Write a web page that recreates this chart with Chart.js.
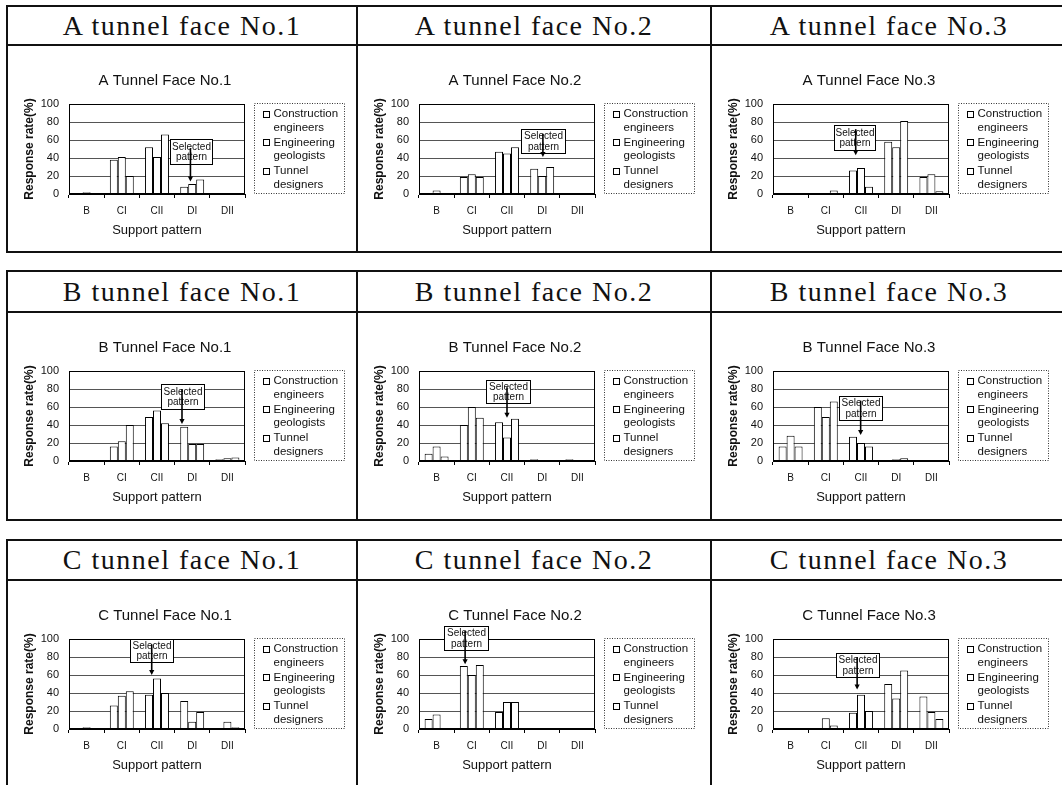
<!DOCTYPE html>
<html><head><meta charset="utf-8">
<script src="https://cdn.jsdelivr.net/npm/chart.js@4.4.1/dist/chart.umd.min.js"></script>
<style>
html,body{margin:0;padding:0;background:#fff;}
#page{position:relative;width:1062px;height:785px;overflow:hidden;background:#fff;}
.ln{position:absolute;background:#111;}
.hdr{position:absolute;font-family:'Liberation Serif','DejaVu Serif',serif;font-size:28px;letter-spacing:1.5px;color:#111;display:flex;align-items:center;justify-content:center;white-space:nowrap;}
canvas{position:absolute;}
</style></head><body><div id="page"></div>
<script>
// ---------- data ----------
const categories = ['B','CI','CII','DI','DII'];
const seriesLabels = ['Construction engineers','Engineering geologists','Tunnel designers'];
const tunnels = ['A','B','C'];
const faces = ['No.1','No.2','No.3'];
const yTicks = [0,20,40,60,80,100];

const A1_construction = [1,38,52,8,0];
const A1_geologists   = [2,41,41,11,0];
const A1_designers    = [0,20,66,16,0];

const A2_construction = [1,19,47,28,0];
const A2_geologists   = [4,22,45,20,1];
const A2_designers    = [0,19,52,30,0];

const A3_construction = [0,0,26,58,19];
const A3_geologists   = [0,0,29,52,22];
const A3_designers    = [0,4,8,81,3];

const B1_construction = [0,16,49,38,2];
const B1_geologists   = [0,22,56,19,3];
const B1_designers    = [0,40,42,19,4];

const B2_construction = [8,40,43,2,2];
const B2_geologists   = [16,60,26,0,0];
const B2_designers    = [5,48,47,0,0];

const B3_construction = [16,60,27,0,0];
const B3_geologists   = [28,49,20,2,0];
const B3_designers    = [16,66,16,3,0];

const C1_construction = [0,26,38,31,0];
const C1_geologists   = [2,37,56,8,8];
const C1_designers    = [0,42,40,19,2];

const C2_construction = [11,70,19,1,0];
const C2_geologists   = [16,60,30,0,0];
const C2_designers    = [0,71,30,0,0];

const C3_construction = [0,1,18,50,36];
const C3_geologists   = [0,12,38,34,19];
const C3_designers    = [0,4,20,65,11];

const panelSeries = {
  A1:[A1_construction,A1_geologists,A1_designers],
  A2:[A2_construction,A2_geologists,A2_designers],
  A3:[A3_construction,A3_geologists,A3_designers],
  B1:[B1_construction,B1_geologists,B1_designers],
  B2:[B2_construction,B2_geologists,B2_designers],
  B3:[B3_construction,B3_geologists,B3_designers],
  C1:[C1_construction,C1_geologists,C1_designers],
  C2:[C2_construction,C2_geologists,C2_designers],
  C3:[C3_construction,C3_geologists,C3_designers]
};

// "Selected pattern" callout, in data units: box [x0,x1,yTop,yBottom], arrow [x, yStart, yTip]
const selectedCallout = {
  A1:{box:[2.38,3.57,61,33], arrow:[2.95,51,14]},
  A2:{box:[2.39,3.65,72,46], arrow:[3.02,67,41]},
  A3:{box:[1.23,2.40,77,49], arrow:[1.85,72,43]},
  B1:{box:[2.11,3.34,86,58], arrow:[2.71,80,41]},
  B2:{box:[1.41,2.64,90,65], arrow:[2.00,82,48]},
  B3:{box:[1.37,2.60,72,46], arrow:[1.99,67,29]},
  C1:{box:[1.24,2.45,100,75], arrow:[1.85,94,60]},
  C2:{box:[0.20,1.45,114,88], arrow:[0.81,109,72]},
  C3:{box:[1.29,2.52,84,58], arrow:[1.89,80,44]}
};

// ---------- layout ----------
const FONT = "'Liberation Sans', Arial, sans-serif";
const blocks = [{top:5,head:44,bottom:251},{top:270,head:311,bottom:519},{top:539,head:579,bottom:800}];
const colX = [6,356,710,1066];
const page = document.getElementById('page');

function line(x,y,w,h){const d=document.createElement('div');d.className='ln';Object.assign(d.style,{left:x+'px',top:y+'px',width:w+'px',height:h+'px'});page.appendChild(d);}

const framePlugin = {
  id:'frame',
  afterDatasetsDraw(chart){
    const {ctx, chartArea:a} = chart;
    ctx.save(); ctx.strokeStyle='#000'; ctx.lineWidth=1;
    ctx.strokeRect(Math.round(a.left)+0.5, Math.round(a.top)+0.5, Math.round(a.right-a.left)-1, Math.round(a.bottom-a.top)-1);
    ctx.restore();
  }
};

const titlePlugin = {
  id:'panelTitle',
  afterDraw(chart, args, opts){
    const {ctx, chartArea:a} = chart;
    ctx.save();
    ctx.fillStyle='#111'; ctx.font='15px '+FONT; ctx.textAlign='center'; ctx.textBaseline='middle';
    ctx.fillText(opts.text, (a.left+a.right)/2 + 8, a.top - 23);
    ctx.restore();
  }
};

const calloutPlugin = {
  id:'callout',
  afterDatasetsDraw(chart, args, opts){
    if(!opts || !opts.box) return;
    const {ctx, scales:{x,y}} = chart;
    const p0 = x.getPixelForValue(0), step = x.getPixelForValue(1)-p0;
    const px = v => p0 + v*step;
    const [bx0,bx1,bt,bb] = opts.box;
    const L=Math.round(px(bx0))+0.5, R=Math.round(px(bx1))+0.5, T=Math.round(y.getPixelForValue(bt))+0.5, B=Math.round(y.getPixelForValue(bb))+0.5;
    ctx.save();
    ctx.fillStyle='#fff'; ctx.fillRect(L,T,R-L,B-T);
    ctx.strokeStyle='#000'; ctx.lineWidth=1; ctx.strokeRect(L,T,R-L,B-T);
    ctx.fillStyle='#111'; ctx.font='10px '+FONT; ctx.textAlign='center'; ctx.textBaseline='middle';
    const cx=(L+R)/2;
    ctx.fillText('Selected', cx, T+(B-T)*0.3);
    ctx.fillText('pattern', cx, T+(B-T)*0.72);
    const [ax,a0,a1] = opts.arrow;
    const X=px(ax), Y0=y.getPixelForValue(a0), Y1=y.getPixelForValue(a1);
    ctx.strokeStyle='#000'; ctx.lineWidth=1.6;
    ctx.beginPath(); ctx.moveTo(X,Y0); ctx.lineTo(X,Y1-3); ctx.stroke();
    ctx.fillStyle='#000';
    ctx.beginPath(); ctx.moveTo(X-2.6,Y1-5); ctx.lineTo(X+2.6,Y1-5); ctx.lineTo(X,Y1); ctx.closePath(); ctx.fill();
    ctx.restore();
  }
};

const boxLegendPlugin = {
  id:'boxLegend',
  afterDraw(chart){
    const {ctx, chartArea:a} = chart;
    const L=Math.round(a.right)+9.5, R=L+90, T=Math.round(a.top)-0.5, B=Math.round(a.bottom)-0.5;
    ctx.save();
    ctx.strokeStyle='#333'; ctx.lineWidth=1; ctx.setLineDash([1,1.5]);
    ctx.strokeRect(L,T,R-L,B-T);
    ctx.setLineDash([]);
    ctx.font='11.5px '+FONT; ctx.textAlign='left'; ctx.textBaseline='middle'; ctx.fillStyle='#111';
    chart.data.datasets.forEach((ds,i)=>{
      const y1 = T + 10.5 + i*28.5, y2 = y1 + 13.5;
      const words = ds.label.split(' ');
      ctx.fillStyle='#fff'; ctx.fillRect(L+9,y1-3.5,7,7);
      ctx.strokeStyle='#000'; ctx.strokeRect(L+9,Math.round(y1-3.5)+0.5,6,6);
      ctx.fillStyle='#111';
      ctx.fillText(words[0], L+19, y1);
      ctx.fillText(words.slice(1).join(' '), L+19, y2);
    });
    ctx.restore();
  }
};

blocks.forEach((b,r)=>{
  line(colX[0], b.top, 1062-colX[0], 2);
  line(colX[0], b.head, 1062-colX[0], 2);
  line(colX[0], b.bottom, 1062-colX[0], 2);
  for(let c=0;c<3;c++) line(colX[c], b.top, 2, b.bottom-b.top+2);
  for(let c=0;c<3;c++){
    const key = tunnels[r]+(c+1);
    const h=document.createElement('div'); h.className='hdr';
    Object.assign(h.style,{left:(colX[c]+2)+'px',top:(b.top+2)+'px',width:(colX[c+1]-colX[c]-2)+'px',height:(b.head-b.top-2)+'px'});
    h.textContent = tunnels[r]+' tunnel face '+faces[c];
    page.appendChild(h);

    const cv=document.createElement('canvas');
    cv.width=350; cv.height=205;
    Object.assign(cv.style,{left:(colX[c]+1)+'px',top:(b.head+1)+'px',width:'350px',height:'205px'});
    page.appendChild(cv);

    new Chart(cv,{
      type:'bar',
      data:{labels:categories, datasets: seriesLabels.map((l,i)=>({label:l, data:panelSeries[key][i], backgroundColor:'#fff', borderColor:'#000', borderWidth:1, barPercentage:1, categoryPercentage:0.68}))},
      options:{
        responsive:false, animation:false, devicePixelRatio:1,
        layout:{padding:{top:59,left:0,right:112,bottom:0}},
        plugins:{
          legend:{display:false}, tooltip:{enabled:false}, title:{display:false},
          panelTitle:{text:tunnels[r]+' Tunnel Face '+faces[c]},
          callout:selectedCallout[key]
        },
        scales:{
          x:{
            grid:{drawOnChartArea:false, drawTicks:true, tickLength:4, color:'#000', offset:true},
            border:{color:'#000'},
            ticks:{font:{family:FONT,size:10}, color:'#111', padding:7, maxRotation:0, autoSkip:false},
            title:{display:true, text:'Support pattern', color:'#111', font:{family:FONT,size:13}, padding:{top:0,bottom:12}},
            afterFit(s){s.height=56;}
          },
          y:{
            min:0, max:100,
            afterBuildTicks(s){s.ticks=yTicks.map(v=>({value:v}));},
            ticks:{font:{family:FONT,size:11}, color:'#111', padding:10},
            grid:{color:'#555', drawTicks:false},
            border:{color:'#000'},
            title:{display:true, text:'Response rate(%)', color:'#111', font:{family:FONT,size:12,weight:'bold'}, padding:{top:15,bottom:0}},
            afterFit(s){s.width=62;}
          }
        }
      },
      plugins:[framePlugin, calloutPlugin, boxLegendPlugin, titlePlugin]
    });
  }
});
</script></body></html>
